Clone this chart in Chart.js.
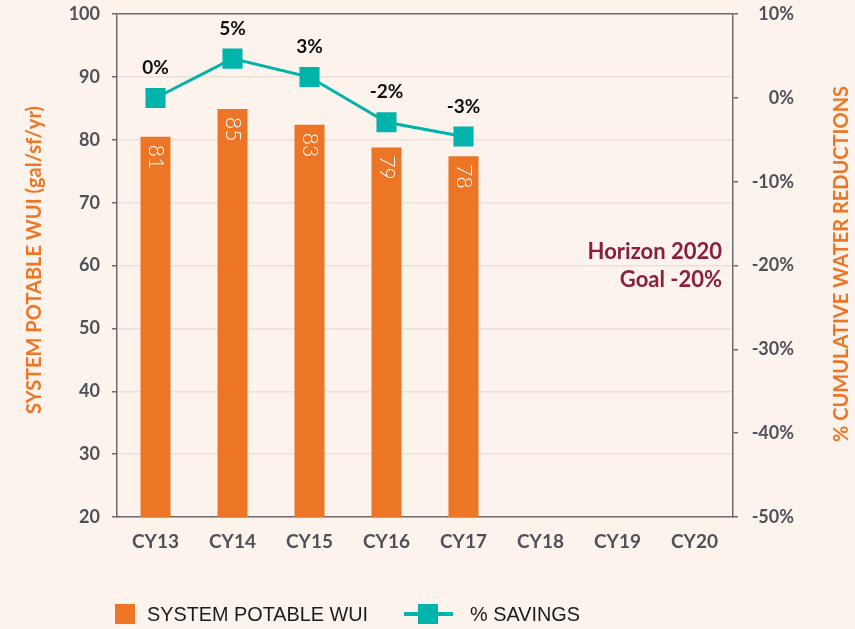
<!DOCTYPE html>
<html><head><meta charset="utf-8">
<script src="https://cdn.jsdelivr.net/npm/chart.js@4.4.0/dist/chart.umd.min.js"></script>
<style>html,body{margin:0;padding:0;background:#fcf3ed;}canvas{display:block;}</style>
</head><body><canvas id="c" width="855" height="629"></canvas>
<script>
const categories = ['CY13','CY14','CY15','CY16','CY17','CY18','CY19','CY20'];
const wuiValues = [80.5, 84.9, 82.4, 78.8, 77.4, null, null, null];
const wuiLabels = ['81','85','83','79','78'];
const savingsValues = [0, 4.7, 2.5, -2.9, -4.6, null, null, null];
const savingsLabels = ['0%','5%','3%','-2%','-3%'];
const goalLines = ['Horizon 2020','Goal -20%'];
const leftTitle = 'SYSTEM POTABLE WUI (gal/sf/yr)';
const rightTitle = '% CUMULATIVE WATER REDUCTIONS';
const legendNames = ['SYSTEM POTABLE WUI','% SAVINGS'];

const ORANGE = '#ec7625', TEAL = '#00b3ab', AXIS = '#6b6b70', GRID = '#ebe1da', TICK = '#505058';
const FONT = 'Lato, "Open Sans", sans-serif';

const extras = {
  id: 'extras',
  afterDatasetsDraw(chart) {
    const ctx = chart.ctx;
    ctx.save();
    const bm = chart.getDatasetMeta(0);
    ctx.fillStyle = '#ffffff';
    ctx.font = '300 21px ' + FONT;
    ctx.textBaseline = 'middle';
    ctx.textAlign = 'left';
    bm.data.forEach((el, i) => {
      if (wuiLabels[i] == null) return;
      ctx.save();
      ctx.translate(el.x, el.y + 8);
      ctx.rotate(Math.PI / 2);
      ctx.fillText(wuiLabels[i], 0, 0);
      ctx.restore();
    });
    const lm = chart.getDatasetMeta(1);
    ctx.fillStyle = '#111111';
    ctx.font = 'bold 19px ' + FONT;
    ctx.textAlign = 'center';
    lm.data.forEach((el, i) => {
      if (savingsLabels[i] == null) return;
      ctx.fillText(savingsLabels[i], el.x, el.y - 30);
    });
    ctx.restore();
  },
  afterDraw(chart) {
    const ctx = chart.ctx;
    const a = chart.chartArea;
    ctx.save();
    ctx.fillStyle = ORANGE;
    ctx.font = 'bold 20px ' + FONT;
    ctx.textAlign = 'center';
    ctx.textBaseline = 'middle';
    ctx.save();
    ctx.translate(35, 260);
    ctx.rotate(-Math.PI / 2);
    ctx.fillText(leftTitle, 0, 0, 314);
    ctx.restore();
    ctx.save();
    ctx.translate(842, 264);
    ctx.rotate(-Math.PI / 2);
    ctx.fillText(rightTitle, 0, 0, 365);
    ctx.restore();
    ctx.fillStyle = '#8b1e3f';
    ctx.font = 'bold 22px ' + FONT;
    ctx.textAlign = 'right';
    ctx.textBaseline = 'alphabetic';
    ctx.fillText(goalLines[0], a.right - 11, 259);
    ctx.fillText(goalLines[1], a.right - 11, 287);
    ctx.fillStyle = ORANGE;
    ctx.fillRect(115, 604, 20, 20);
    ctx.fillStyle = '#1c1c1c';
    ctx.font = '21px "Liberation Sans Narrow", "Liberation Sans", sans-serif';
    ctx.textAlign = 'left';
    ctx.textBaseline = 'middle';
    ctx.fillText(legendNames[0], 147, 615, 221);
    ctx.strokeStyle = TEAL;
    ctx.lineWidth = 4;
    ctx.beginPath(); ctx.moveTo(404, 614); ctx.lineTo(453, 614); ctx.stroke();
    ctx.fillStyle = TEAL;
    ctx.fillRect(418, 604, 20, 20);
    ctx.fillStyle = '#1c1c1c';
    ctx.fillText(legendNames[1], 470, 615, 110);
    ctx.restore();
  }
};

new Chart(document.getElementById('c'), {
  data: {
    labels: categories,
    datasets: [
      { type: 'bar', data: wuiValues, backgroundColor: ORANGE, yAxisID: 'y',
        barPercentage: 0.39, categoryPercentage: 1, order: 1 },
      { type: 'line', data: savingsValues, yAxisID: 'y2', borderColor: TEAL, borderWidth: 3,
        pointStyle: 'rect', pointRadius: 14.2, pointBackgroundColor: TEAL, pointBorderWidth: 0,
        tension: 0, order: 0, spanGaps: false }
    ]
  },
  options: {
    responsive: false,
    animation: false,
    layout: { padding: { top: 13, bottom: 0, left: 0, right: 61 } },
    plugins: { legend: { display: false }, tooltip: { enabled: false } },
    scales: {
      x: {
        grid: { display: false, drawTicks: false },
        border: { display: true, color: AXIS, width: 1.5 },
        ticks: { color: TICK, font: { family: FONT, weight: 'bold', size: 19 }, padding: 13 },
        afterFit(s) { s.height = 112; s.paddingLeft = 0; s.paddingRight = 0; }
      },
      y: {
        position: 'left', min: 20, max: 100,
        ticks: { stepSize: 10, color: TICK, font: { family: FONT, weight: 'bold', size: 18 }, padding: 12 },
        grid: { color: (c) => (c.tick && c.tick.value === 100) ? AXIS : GRID, lineWidth: 1.5,
                tickColor: AXIS, tickLength: 5 },
        border: { color: AXIS, width: 1.5 },
        afterFit(s) { s.width = 117; s.paddingTop = 0; s.paddingBottom = 0; }
      },
      y2: {
        position: 'right', min: -50, max: 10,
        ticks: { stepSize: 10, color: TICK, font: { family: FONT, weight: 'bold', size: 18 }, padding: 11,
                 crossAlign: 'far', callback: (v) => v + '%' },
        grid: { drawOnChartArea: false, tickColor: AXIS, tickLength: 5, lineWidth: 1.5 },
        border: { color: AXIS, width: 1.5 },
        afterFit(s) { s.width = 61; s.paddingTop = 0; s.paddingBottom = 0; }
      }
    }
  },
  plugins: [extras]
});
</script>
</body></html>
